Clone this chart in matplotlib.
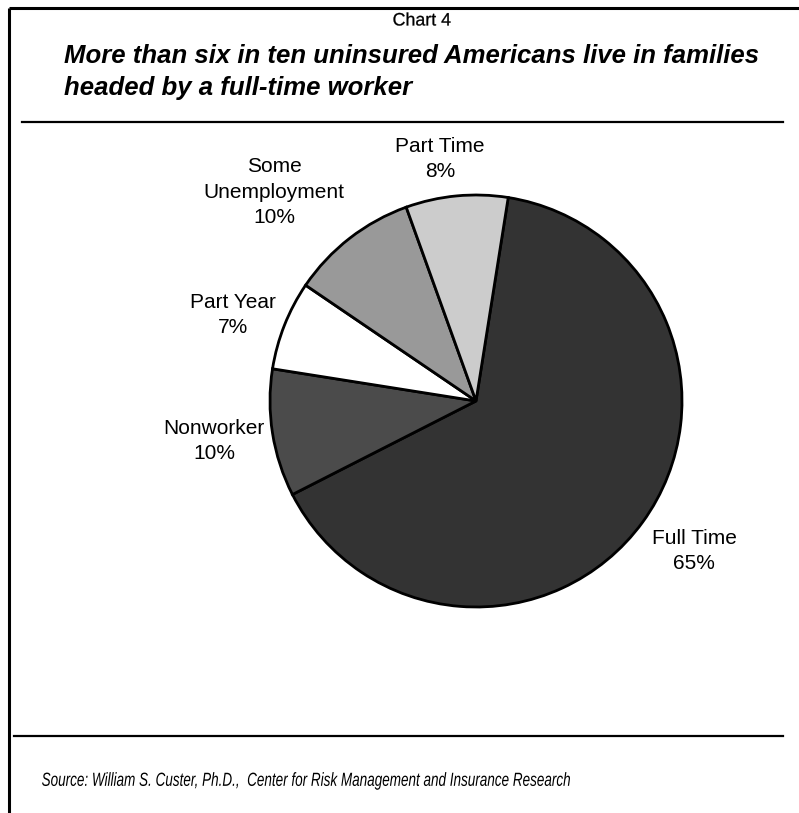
import numpy as np
import matplotlib
matplotlib.use('Agg')
import matplotlib.pyplot as plt
from matplotlib.textpath import TextPath
from matplotlib.patches import PathPatch
from matplotlib.font_manager import FontProperties
import matplotlib.transforms as mtransforms

# Datos del grafico
categorias = ['Full Time', 'Nonworker', 'Part Year', 'Some\nUnemployment', 'Part Time']
porcentajes = [65, 10, 7, 10, 8]
colores = ['#333333', '#4b4b4b', '#ffffff', '#999999', '#cccccc']

# posiciones de las etiquetas (pixeles de la imagen)
etiqueta_x = [694, 214, 233, 274, 440]
etiqueta_y = [551, 441, 315, 192, 159]

W, H = 799, 813
fig = plt.figure(figsize=(W / 100, H / 100), dpi=100)
ax = fig.add_axes([0, 0, 1, 1])


def y(py):
    return H - py


def texto_estrecho(x, py, s, size_px, ancho, style='normal', ha='left', grosor=0.0):
    # texto comprimido horizontalmente (imita Arial Narrow)
    fp = FontProperties(family='Liberation Sans', style=style)
    tp = TextPath((0, 0), s, size=size_px, prop=fp)
    bb = tp.get_extents()
    sx = ancho / bb.width
    x0 = x - ancho / 2 if ha == 'center' else x
    tr = mtransforms.Affine2D().translate(-bb.x0, -size_px * 0.36).scale(sx, 1) \
        .translate(x0, y(py)) + ax.transData
    ax.add_patch(PathPatch(tp, transform=tr, facecolor='black', edgecolor='black',
                           linewidth=grosor))


# Pie
cx, cy, r = 476, 401, 206
ax.pie(porcentajes, colors=colores, startangle=81, counterclock=False,
       center=(cx, y(cy)), radius=r, frame=True,
       wedgeprops=dict(edgecolor='black', linewidth=2))
ax.set_xlim(0, W)
ax.set_ylim(0, H)
ax.set_aspect('auto')
ax.axis('off')

for cat, p, lx, ly in zip(categorias, porcentajes, etiqueta_x, etiqueta_y):
    ax.text(lx, y(ly), f'{cat}\n{p}%', ha='center', va='center',
            fontsize=15, family='Liberation Sans', linespacing=1.42)

# Marco y separadores
ax.plot([9, W], [y(8), y(8)], color='black', lw=2.2, solid_capstyle='butt')
ax.plot([9, 9], [y(8), 0], color='black', lw=2.2, solid_capstyle='butt')
ax.plot([22, 783], [y(122), y(122)], color='black', lw=1.6)
ax.plot([14, 783], [y(736), y(736)], color='black', lw=1.6)

# Titulos
texto_estrecho(422, 19, 'Chart 4', 18, 57, ha='center', grosor=0.2)
ax.text(64, y(72), 'More than six in ten uninsured Americans live in families\n'
        'headed by a full-time worker', ha='left', va='center', fontsize=18.5,
        family='Liberation Sans', weight='bold', style='italic', linespacing=1.45)
texto_estrecho(42, 779, 'Source: William S. Custer, Ph.D.,  Center for Risk Management and Insurance Research',
               19, 528, style='italic')

fig.savefig('out.png', dpi=100)
